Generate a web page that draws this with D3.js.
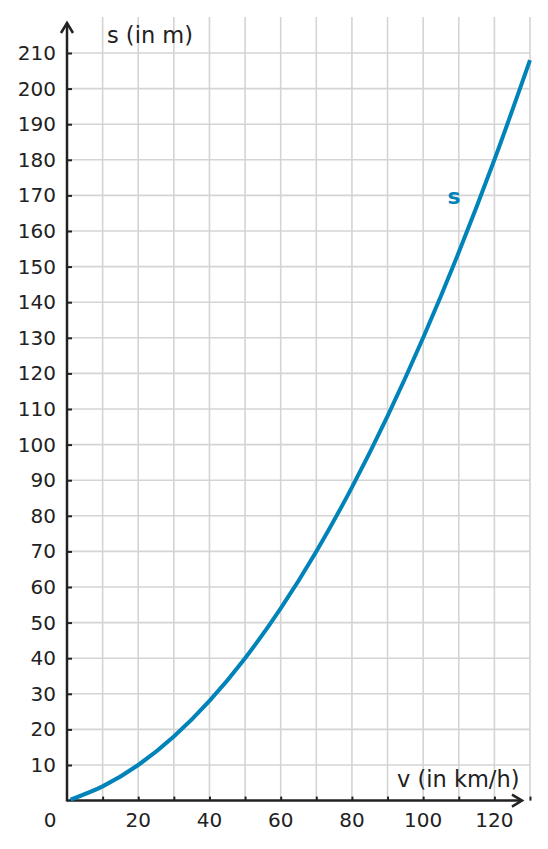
<!DOCTYPE html>
<html>
<head>
<meta charset="utf-8">
<script src="https://cdn.jsdelivr.net/npm/d3@7"></script>
<style>
  body { margin: 0; background: #fff; }
  svg { display: block; }
</style>
</head>
<body>
<svg id="chart" width="548" height="849"></svg>
<script>
// speed in km/h and braking distance in m
const speeds = [1, 10, 20, 30, 40, 50, 60, 70, 80, 90, 100, 110, 120, 130];
const distances = [0.3, 4, 10, 18, 28, 40, 54, 70, 88, 108, 130, 154, 180, 208];
const xTickLabels = [20, 40, 60, 80, 100, 120];
const yTickLabels = [10, 20, 30, 40, 50, 60, 70, 80, 90, 100, 110, 120, 130, 140, 150, 160, 170, 180, 190, 200, 210];

const blue = '#0083b9';
const ink = '#222';
const font = 'DejaVu Sans';

const svg = d3.select('#chart').attr('font-family', font);

const x = d3.scaleLinear().domain([0, 130]).range([67, 530]);
const y = d3.scaleLinear().domain([0, 210]).range([800.6, 53]);

const xGrid = d3.range(10, 131, 10);
const yGrid = d3.range(10, 211, 10);

// grid
svg.append('g')
  .selectAll('line')
  .data(xGrid)
  .enter()
  .append('line')
  .attr('x1', (d) => x(d))
  .attr('x2', (d) => x(d))
  .attr('y1', 17)
  .attr('y2', y(0))
  .style('stroke', '#d4d4d4')
  .style('stroke-width', 1.6);

svg.append('g')
  .selectAll('line')
  .data(yGrid)
  .enter()
  .append('line')
  .attr('x1', x(0))
  .attr('x2', x(130))
  .attr('y1', (d) => y(d))
  .attr('y2', (d) => y(d))
  .style('stroke', '#d4d4d4')
  .style('stroke-width', 1.6);

// axes
const axisX = svg.append('g')
  .attr('transform', `translate(0, ${y(0)})`)
  .call(d3.axisTop(x).tickValues(xGrid).tickSize(4).tickFormat(''));
axisX.select('.domain').remove();
axisX.selectAll('line').style('stroke', ink).style('stroke-width', 2);

const axisY = svg.append('g')
  .attr('transform', `translate(${x(0)}, 0)`)
  .call(d3.axisRight(y).tickValues(yTickLabels).tickSize(5).tickFormat(''));
axisY.select('.domain').remove();
axisY.selectAll('line').style('stroke', ink).style('stroke-width', 2);

svg.append('line')
  .attr('x1', x(0)).attr('x2', 522)
  .attr('y1', y(0)).attr('y2', y(0))
  .style('stroke', ink).style('stroke-width', 2.5);
svg.append('path')
  .attr('d', `M512,${y(0) - 6}L522,${y(0)}L512,${y(0) + 6}`)
  .style('fill', 'none').style('stroke', ink).style('stroke-width', 2.5);

svg.append('line')
  .attr('x1', x(0)).attr('x2', x(0))
  .attr('y1', y(0) + 1).attr('y2', 23)
  .style('stroke', ink).style('stroke-width', 2.5);
svg.append('path')
  .attr('d', `M${x(0) - 6},33L${x(0)},23L${x(0) + 6},33`)
  .style('fill', 'none').style('stroke', ink).style('stroke-width', 2.5);

// tick labels
svg.append('g')
  .selectAll('text')
  .data(yTickLabels)
  .enter()
  .append('text')
  .attr('x', 56)
  .attr('y', (d) => y(d) + 7)
  .attr('text-anchor', 'end')
  .attr('font-size', 20)
  .attr('fill', ink)
  .text((d) => d);

svg.append('g')
  .selectAll('text')
  .data(xTickLabels)
  .enter()
  .append('text')
  .attr('x', (d) => x(d))
  .attr('y', 827)
  .attr('text-anchor', 'middle')
  .attr('font-size', 20)
  .attr('fill', ink)
  .text((d) => d);

svg.append('text')
  .attr('x', 50)
  .attr('y', 827)
  .attr('text-anchor', 'middle')
  .attr('font-size', 20)
  .attr('fill', ink)
  .text('0');

// axis titles
svg.append('text')
  .attr('x', 107)
  .attr('y', 43)
  .attr('font-size', 22.5)
  .attr('fill', ink)
  .text('s (in m)');

svg.append('text')
  .attr('x', 397)
  .attr('y', 787)
  .attr('font-size', 22.5)
  .attr('fill', ink)
  .text('v (in km/h)');

// curve
const line = d3.line()
  .x((d, i) => x(speeds[i]))
  .y((d) => y(d))
  .curve(d3.curveMonotoneX);

svg.append('path')
  .datum(distances)
  .attr('d', line)
  .style('fill', 'none')
  .style('stroke', blue)
  .style('stroke-width', 4);

svg.append('text')
  .attr('x', 454)
  .attr('y', 204)
  .attr('text-anchor', 'middle')
  .attr('font-size', 22)
  .attr('font-weight', 'bold')
  .attr('fill', blue)
  .text('s');
</script>
</body>
</html>
